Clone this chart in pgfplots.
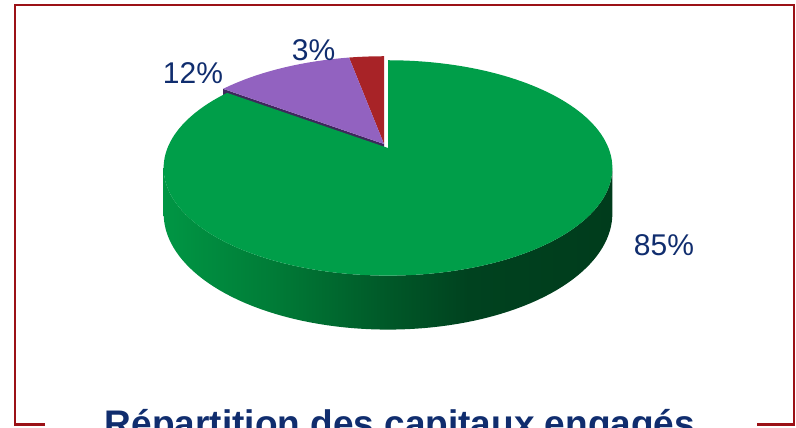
\documentclass[border=0pt]{standalone}
\usepackage{pgfplots}
\pgfplotsset{compat=1.18}
\usepackage{pgfplotstable}
\usepackage{fontspec}
\setmainfont{Liberation Sans}

\definecolor{navy}{RGB}{16,45,110}
\definecolor{framered}{RGB}{155,17,22}
\definecolor{gtop}{RGB}{0,158,73}
\definecolor{ptop}{RGB}{146,98,192}
\definecolor{pside}{RGB}{62,40,92}
\definecolor{rtop}{RGB}{168,35,39}
\definecolor{w0}{RGB}{0,150,68}
\definecolor{w1}{RGB}{0,124,55}
\definecolor{w2}{RGB}{0,88,40}
\definecolor{w3}{RGB}{0,66,31}
\definecolor{w4}{RGB}{0,60,28}
\pgfdeclarehorizontalshading{wallshade}{100bp}{color(0bp)=(w0); color(25bp)=(w0); color(37bp)=(w1); color(50bp)=(w2); color(59bp)=(w3); color(75bp)=(w4); color(100bp)=(w4)}

% share of each slice (percent)
\pgfplotstableread{
name   value
Red    3
Purple 12
Green  85
}\piedata

\begin{document}%
\begin{tikzpicture}[
  declare function={
    pd(\t)=1+0.185*sin(\t);
    px(\t)=388+220.5*cos(\t)/pd(\t);
    py(\t)=148-104*sin(\t)/pd(\t);
    pyb(\t)=py(\t)+44/pd(\t);
  }]
\pgfplotstablegetelem{0}{value}\of\piedata\let\vRed\pgfplotsretval
\pgfplotstablegetelem{1}{value}\of\piedata\let\vPur\pgfplotsretval
\pgfplotstablegetelem{2}{value}\of\piedata\let\vGrn\pgfplotsretval
\pgfmathsetmacro\aA{90+3.6*\vRed}
\pgfmathsetmacro\aB{\aA+3.6*\vPur}
\pgfmathsetmacro\aC{\aB+3.6*\vGrn}
\begin{axis}[name=ax, at={(0,0)}, anchor=south west,
  width=796pt, height=428pt, scale only axis,
  xmin=0, xmax=796, ymin=0, ymax=428, y dir=reverse,
  hide axis, clip=false]
% cut face of purple slice (seen as thin dark strip)
\fill[pside] (384,144) -- ({px(\aB)-4},{py(\aB)-4}) -- ({px(\aB)-4},{pyb(\aB)-4}) -- (384,188) -- cycle;
% red slice
\fill[rtop] (384,144) -- plot[domain=90:\aA, samples=10, variable=\t] ({px(\t)-4},{py(\t)-4}) -- cycle;
% purple slice
\fill[ptop] (384,144) -- plot[domain=\aA:\aB, samples=30, variable=\t] ({px(\t)-4},{py(\t)-4}) -- cycle;
% green wall
\shade[shading=wallshade] plot[domain=190.7:349.3, samples=80, variable=\t] ({px(\t)},{py(\t)}) -- plot[domain=349.3:190.7, samples=80, variable=\t] ({px(\t)},{pyb(\t)}) -- cycle;
% green top
\fill[gtop] (388,148) -- plot[domain=\aB:\aC, samples=150, variable=\t] ({px(\t)},{py(\t)}) -- cycle;
% labels
\node[anchor=base, text=navy, font=\fontsize{30}{36}\selectfont] at (193,83) {12\%};
\node[anchor=base, text=navy, font=\fontsize{30}{36}\selectfont] at (313.5,60) {3\%};
\node[anchor=base, text=navy, font=\fontsize{30}{36}\selectfont] at (664,255) {85\%};
% frame
\draw[framered, line width=2.6pt] (45,424.5) -- (15,424.5) -- (15,5) -- (794,5) -- (794,424.5) -- (757,424.5);
% title
\node[anchor=base, text=navy, font=\fontsize{37}{44}\selectfont\bfseries] at (400,436.5) {Répartition des capitaux engagés};
\end{axis}
\pgfresetboundingbox
\path[use as bounding box] (ax.south west) rectangle (ax.north east);
\end{tikzpicture}%
\end{document}
